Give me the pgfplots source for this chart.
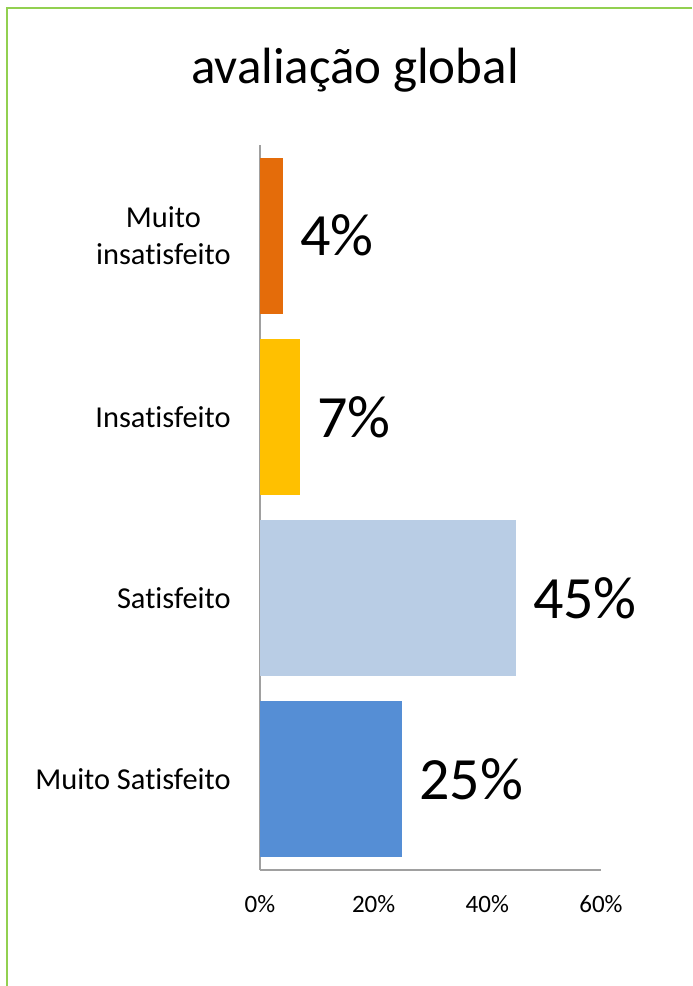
\documentclass[border=0pt]{standalone}
\usepackage{fontspec}
\setmainfont{Carlito}[Ligatures={NoCommon}]
\usepackage{pgfplots}
\pgfplotsset{compat=1.18}
\definecolor{bordergreen}{RGB}{146,208,80}
\definecolor{barorange}{RGB}{228,108,10}
\definecolor{baryellow}{RGB}{255,192,0}
\definecolor{barlightblue}{RGB}{185,205,229}
\definecolor{barblue}{RGB}{85,142,213}
\definecolor{axisgray}{RGB}{160,160,160}
\begin{document}
\begin{tikzpicture}
\path[use as bounding box] (0pt,0pt) rectangle (346pt,-493pt);
\draw[bordergreen, line width=1pt] (3.5pt,-493pt) -- (3.5pt,-4pt) -- (346pt,-4pt);
\node[anchor=base, inner sep=0pt, font=\fontsize{25.5}{30}\selectfont] at (177.5pt,-41.5pt) {avaliação global};
\begin{axis}[
  at={(130pt,-435pt)}, anchor=south west,
  scale only axis, width=170.5pt, height=362.5pt,
  xbar, bar shift=0pt, bar width=0.861,
  xmin=0, xmax=60, ymin=-0.5, ymax=3.5,
  axis lines*=left,
  axis line style={axisgray, line width=1.1pt},
  major tick length=0pt,
  /pgf/number format/assume math mode=true,
  xtick={0,20,40,60},
  xticklabel={\pgfmathprintnumber{\tick}\%},
  xticklabel style={font=\fontsize{12.5}{15}\selectfont, inner sep=0pt, anchor=north, yshift=-12.5pt},
  ytick={0,1,2,3},
  yticklabels={{Muito Satisfeito},{Satisfeito},{Insatisfeito},{Muito\\insatisfeito}},
  yticklabel style={font=\fontsize{15.2}{18.5}\selectfont, align=center, inner sep=0pt, anchor=east, xshift=-14.5pt},
  nodes near coords={\pgfmathprintnumber{\pgfplotspointmeta}\%},
  point meta=x,
  nodes near coords style={font=\fontsize{30}{36}\selectfont, anchor=west, inner sep=0pt, xshift=8.5pt},
  clip=false,
]
\addplot[fill=barblue, draw=none] coordinates {(25,0)};
\addplot[fill=barlightblue, draw=none] coordinates {(45,1)};
\addplot[fill=baryellow, draw=none] coordinates {(7,2)};
\addplot[fill=barorange, draw=none] coordinates {(4,3)};
\end{axis}
\end{tikzpicture}
\end{document}
